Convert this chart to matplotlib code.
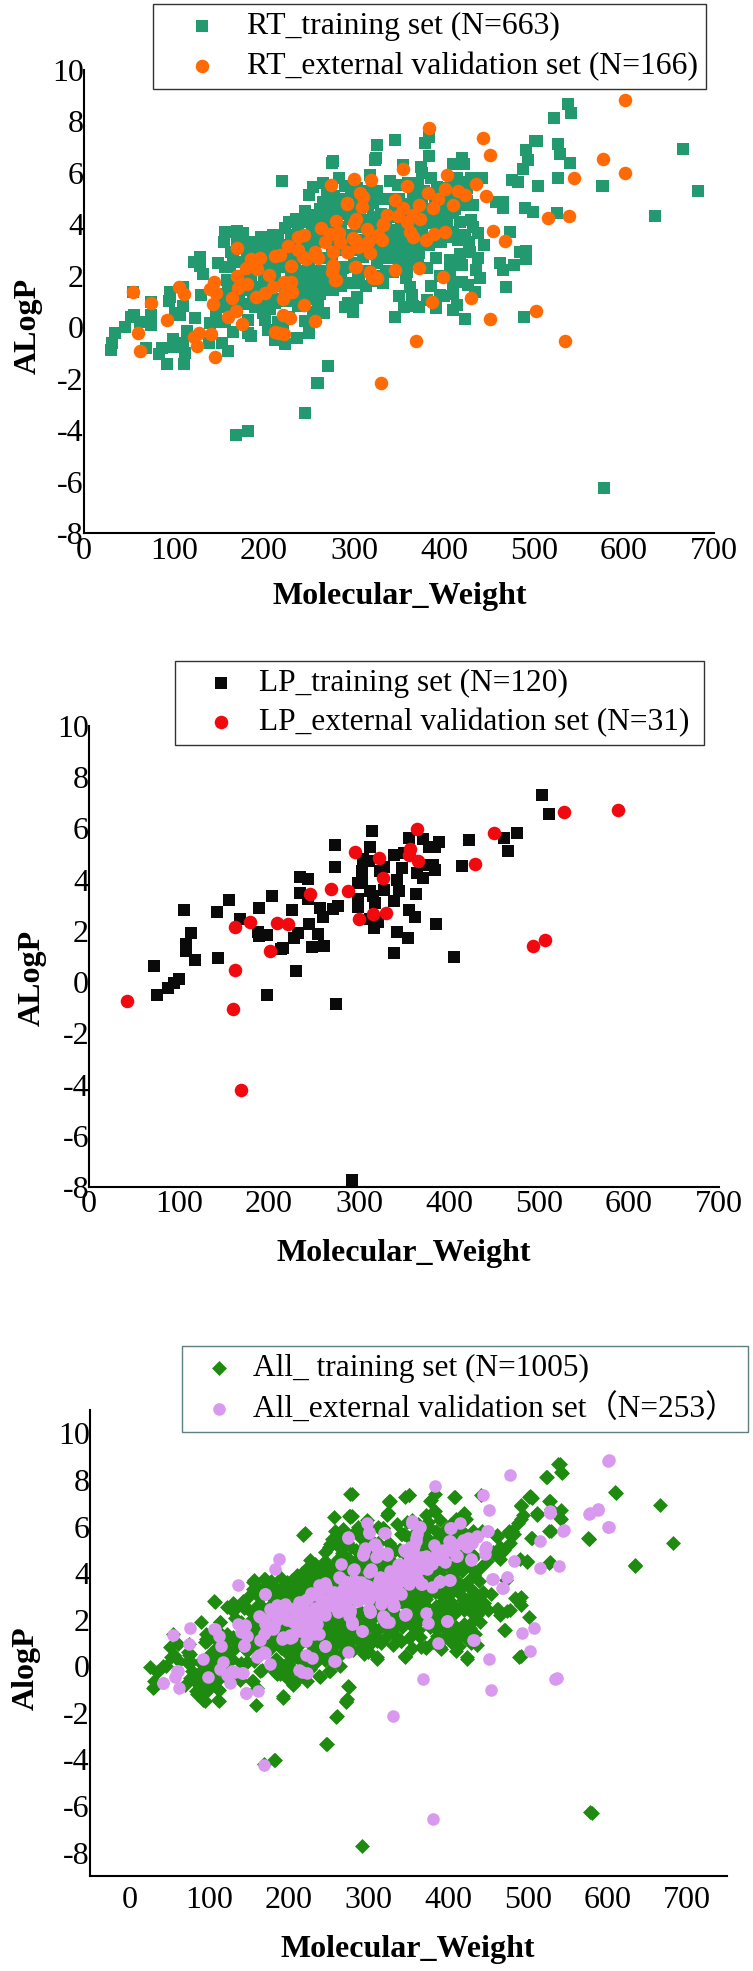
import matplotlib
matplotlib.use('Agg')
import matplotlib.pyplot as plt

plt.rcParams['font.family'] = ['Liberation Serif', 'Noto Sans CJK SC']

# values, (Molecular_Weight, ALogP)
rt_train = [
    (30,-0.9),(31,-0.63),(34,-0.24),(46,0),(56,0.47),(52,0.41),(62,0.21),(74,0.47),(74,0.28),(74,0.08),
    (69,-0.82),(54,1.38),(74,0.97),(83,-1.05),(87,-0.82),(92,-1.43),(111,-1.43),(112,-1.02),(110,-0.63),
    (99,-0.47),(99,-0.76),(114,-0.14),(123,0.37),(95.5,1.38),(94.5,1.03),(95.5,1.19),(101,0.54),(106.5,0.47),
    (109.5,0.84),(110,1.55),(130,1.25),(122,2.55),(129,2.72),(129,2.38),(132.5,2.07),(139,-0.6),(153,-0.63),
    (159.5,-0.93),(140,0.15),(147,0.19),(156.5,0.21),(166,-0.17),(147,0.67),(151,0.86),(158.5,0.8),(158.5,1.83),
    (149,2.48),(156.5,2.35),(162,2.35),(163,2.94),(155,3.32),(156.5,3.69),(169.5,3.75),(177,3.65),(169.5,3.39),
    (175,2.55),(182.5,-0.24),(185,-0.34),(182.5,0.28),(190,0.8),(199,0.54),(201,0.28),(192,1.25),(182,1.45),
    (193.5,1.57),(204.5,-0.11),(212,-0.5),(223,-0.65),(221,0),(237,-0.43),(250,-0.21),(245,0.25),(254.5,0.6),
    (266.5,0.56),(238,0.82),(220,5.7),(271,-1.51),(259,-2.16),(276,6.4),(323,6.5),(317.5,5.92),(283.5,5.79),
    (265.7,5.62),(254.5,5.46),(250,5.14),(297,5.2),(266,4.88),(256.5,4.36),(242,4.2),(275,4.62),(223,3.84),
    (197,3.52),(190,3.32),(203,3.32),(216,3.45),(230.5,3.58),(186,3.07),(197,3.07),(208,3.0),(221.5,2.74),
    (219.5,2.35),(208,2.35),(197,2.22),(186,2.03),(212,1.9),(230.5,1.96),(241.6,2.09),(252.7,2.09),(256,1.7),
    (267.5,1.83),(273,1.45),(299,1.7),(291.5,1.7),(304.5,2.03),(303,1.19),(293,0.93),(299,0.6),(245,3.26),
    (253,3.65),(230.5,2.87),(201,1.12),(212,0.93),(234,1.57),(538,8.68),(541.5,8.34),(522.3,8.12),(503.5,7.25),
    (501.6,7.25),(526.7,7.11),(528.6,6.73),(540.4,6.37),(491.6,6.89),(493.5,6.5),(488,6.15),(475,5.72),(482,5.66),
    (526.7,5.81),(504,5.49),(575.6,5.49),(458,4.88),(465.7,4.88),(465,4.62),(489.7,4.62),(499,4.49),(526,4.45),
    (473,3.71),(444,3.2),(430,4.17),(431.7,3.91),(438,3.65),(484,2.91),(491.6,2.97),(491.6,2.64),(477.5,2.42),
    (462,2.48),(465,2.22),(438,2.68),(429,2.93),(418,2.83),(406.5,2.61),(414,2.48),(406.5,2.2),(436,2.22),
    (391,2.7),(381,2.29),(469.4,1.57),(434,1.38),(427,1.64),(419.5,1.77),(410,1.7),(410,1.31),(414,0.86),
    (409.5,0.67),(423,0.32),(488.6,0.41),(346,0.41),(395.4,1.25),(391,0.73),(380.6,1.06),(372.5,0.77),(366,0.82),
    (364,1.25),(362,1.57),(357.6,1.9),(359,2.16),(360,2.61),(371,2.61),(295.5,0.93),(303,1.12),(290,0.8),
    (299,0.67),(277,1.44),(293.6,1.7),(288,2.29),(332.5,1.7),(343.6,2.16),(326,7.08),(346,7.28),(383.6,7.38),
    (378.4,7.15),(383.6,6.67),(324,6.59),(277,6.46),(354,6.3),(374,6.21),(376,5.98),(283.7,5.79),(317.7,5.92),
    (419.5,6.56),(410,6.34),(422,6.34),(442.7,5.82),(430.5,5.82),(414,5.79),(421,5.66),(340,5.69),(349,5.53),
    (371,5.59),(366,5.2),(392,5.46),(297,5.27),(432.4,4.75),(421,4.75),(410,4.43),(403,4.17),(417.6,4.1),
    (410,3.71),(397,3.32),(377,3.19),(382.5,4.04),(321,4.81),(332.5,5),(306.6,4.43),(284.4,4.55),(317.7,4.17),
    (347,3.78),(347,3.52),(343.6,3.13),(351,3.26),(328.8,3),(325,2.48),(290,2.35),(277,2.22),(310.3,2.74),
    (373,4.55),(358.4,4.04),(336,4.17),(321.4,4.3),(340,3.65),(354.7,3),(362,2.87),(395.4,3.78),
    (246,-3.34),(169,-4.2),(182,-4.03),(260,-2.15),(271.5,-1.52),(578,-6.26),(682.5,5.28),(665.4,6.92),
    (634.4,4.34),(576.7,5.48),
    (262,2.7),(275,2.9),(285,3.2),(295,3.6),(305,3.9),(315,3.5),(325,3.2),(335,3.5),(345,4.4),(355,4.8),
    (365,4.0),(375,3.6),(385,3.3),(240,2.7),(250,2.4),(262,2.2),(275,2.5),(285,2.0),(300,2.5),(312,2.2),
    (320,1.8),(335,2.2),(345,2.7),(225,3.1),(235,3.1),(260,3.8),(270,4.2),(285,3.9),(295,4.2),(305,4.9),
    (315,4.7),(330,4.4),(345,4.8),(360,4.4),(375,5.0),(390,4.9),(400,4.8),(410,5.2),(385,5.8),(360,5.6),
    # the solid middle of the cloud
    (181,2.9),(188,2.6),(194,2.8),(202,2.6),(207,3.2),(213,3.2),(222,3.2),(227,2.7),(234,2.4),(239,2.2),
    (246,2.9),(252,3.1),(257,3.3),(266,3.4),(272,3.7),(278,3.4),(284,3.5),(289,3.0),(296,3.2),(301,3.0),
    (307,3.4),(312,3.0),(319,2.9),(326,2.9),(333,3.0),(339,3.3),(344,3.0),(353,3.6),(358,3.4),(365,3.3),
    (371,3.9),(378,4.3),(384,4.6),(391,4.2),(398,4.4),(404,4.9),(412,4.6),(418,5.1),(425,4.9),(397,5.1),
    (352,4.1),(341,4.3),(330,3.8),(322,3.9),(310,4.1),(300,4.5),(290,4.4),(278,4.3),(268,3.9),(262,4.6),
    (248,4.1),(238,3.9),(284,5.0),(290,5.5),(303,5.4),(312,5.3),(326,5.3),(338,5.0),(350,5.0),(364,4.8),
    (378,5.3),(386,5.2),(400,5.4),(408,5.5),(415,5.4),(425,5.4),(370,3.3),(350,2.4),(337,2.7),(325,2.0),
    (313,1.6),(305,1.7),(285,1.6),(280,1.9),(272,2.1),(264,1.5),(257,2.1),(247,1.7),(241,1.4),(237,2.0),
    (228,1.3),(218,1.6),(206,1.6),(200,1.8),(190,2.4),(180,1.9),(172,2.0),(167,1.7),(160,1.4),(155,1.3),
    (172,1.2),(180,0.9),(207,0.7),(216,0.2),(228,0.4),(232,1.0),(244,1.0),(252,1.1),(260,1.0),(205,2.1),
    (362,3.0),(355,2.7),(348,2.9),(372,2.9),(383,3.2),(392,3.4),(404,3.5),(415,3.4),(423,3.6),(428,3.3),
    (262,1.3),(250,1.3),(245,1.9),(238,1.7),(225,1.0),(215,1.1),(205,1.0),(195,0.9),(188,1.2),(170,0.9),
    (165,2.6),(180,3.2),(192,3.3),(210,3.6),(235,4.2),(228,4.1),(245,4.5),(255,4.1),(270,5.2),(278,5.1),
    (350,1.2),(355,0.8),(385,1.6),(400,1.2),(395,2.0),(420,2.4),(440,1.9),
]
rt_ext = [
    (54,1.35),(74,0.95),(92.5,0.3),(60,-0.21),(62,-0.91),(106,1.58),(111.4,1.28),(128,-0.21),(122.5,-0.37),
    (126,-0.73),(141,-0.28),(145.4,-1.15),(143,0.9),(144.7,1.77),(140,1.47),(147,1.32),(169.5,1.99),(170,3.09),
    (164,1.15),(171,1.51),(181.3,1.68),(168.7,0.63),(160,0.38),(175.7,0.12),(185,2.65),(195,2.68),(180,2.29),
    (191.7,2.25),(205.7,2.03),(212,2.77),(218.3,2.81),(191,1.19),(201,1.34),(210,1.58),(222,1.74),(230.5,1.77),
    (227,1.51),(231,1.38),(223,1.32),(221,1.08),(230,2.39),(227,3.16),(238,3.49),(244.6,3.58),(238,3),
    (243.5,2.74),(247,2.64),(260,2.7),(256.4,2.94),(263,3.84),(267.5,3.32),(273,3.62),(283,3.67),(277,2.94),
    (293.4,2.94),(300.8,3.39),(304.5,3.13),(315.6,3.32),(317.5,2.9),(326.7,3.52),(314,3.82),(280.5,4.14),
    (300,4.04),(302.7,4.19),(332,3.97),(292.7,4.82),(309,4.69),(310,5.07),(306.3,5.2),(274,5.53),(300,5.75),
    (319.3,5.72),(277,2.35),(275,2.16),(278.6,1.83),(301.5,2.33),(317.5,2.09),(325,1.9),(221,0.47),(229.4,0.34),
    (244.6,0.86),(256.4,0.24),(212,-0.17),(216.4,-0.24),(222,-0.28),(600.7,8.83),(383.6,7.73),(443.5,7.37),
    (451,6.69),(576.7,6.54),(600.7,5.98),(544.5,5.82),(354,6.17),(402.8,5.92),(359,5.5),(401,5.38),(436,5.55),
    (382.5,5.2),(447,5.1),(415.8,5.29),(423,5.14),(345.5,4.94),(393.6,4.97),(292.5,4.79),(410,4.75),(387.3,4.62),
    (372.5,4.75),(354.7,4.62),(337,4.36),(349.2,4.32),(365.8,4.36),(358.4,4.1),(373,4.19),(332.5,4),(515.6,4.23),
    (538.6,4.32),(454.6,3.74),(467.5,3.36),(401,3.71),(388.7,3.62),(380,3.39),(362,3.71),(365.8,3.52),(327,3.58),
    (330.7,3.41),(282.6,3.65),(284.4,3.32),(299,3.45),(308.5,3.19),(292,2.93),(302,2.35),(345.5,2.22),(372.5,2.29),
    (398.4,1.94),(317.7,2.16),(321.4,1.92),(279.6,1.83),(277,2.42),(430.5,1.12),(387,0.99),(502.7,0.64),(451.6,0.32),
    (368.8,-0.54),(534.5,-0.54),(330,-2.15),
]
lp_train = [
    (72.7,0.61),(76,-0.49),(87.7,-0.24),(94,-0.05),(99.5,0.14),(118,0.86),(107.5,1.21),(107.5,1.49),(113,1.9),
    (106,2.81),(143,0.93),(142,2.75),(156,3.22),(168,2.46),(189,2.9),(203,3.36),(188,1.95),(189,1.81),(198,1.84),
    (198,-0.49),(216,1.33),(213,1.29),(225,2.81),(228,1.74),(232,1.92),(230.5,0.42),(234,4.11),(243,4.03),
    (234,3.47),(243,3.25),(244,2.26),(248,1.37),(254.5,1.87),(257,2.9),(260,2.54),(261,1.41),(271,2.86),
    (276.5,2.98),(273,4.51),(273,5.35),(274,-0.86),(292,-7.71),(299,2.94),(299,3.25),(299,3.88),(303,4.03),
    (303,4.35),(304,4.82),(312,5.29),(314,5.89),(311,4.74),(312,3.56),(315,3.38),(318,3.09),(318,2.46),
    (316.6,2.12),(321,2.34),(312,2.46),(323,4.35),(328,4.51),(328,3.61),(339,4.98),(339,3.17),(342,3.99),
    (344,3.56),(347.6,4.46),(350,5.05),(342,1.95),(339,1.13),(354,1.74),(355.6,2.81),(362.6,2.54),(363.6,3.44),
    (356,5.64),(364.7,4.27),(371,5.6),(371,4.07),(376.5,4.58),(377.6,5.29),(382,4.58),(384.5,4.38),(384.5,5.29),
    (389,5.48),(386,2.26),(406,0.97),(414,4.54),(422,5.56),(461,5.64),(465,5.13),(476,5.82),(503,7.32),(511,6.58),
]
lp_ext = [
    (41.7,-0.72),(160.4,-1.05),(162,0.47),(162,2.15),(169,-4.22),(178.6,2.34),(201.6,1.22),(209,2.29),(221.4,2.26),
    (246,3.45),(268.4,3.64),(288,3.56),(295,5.09),(300,2.46),(315,2.67),(330,2.7),(322.5,4.85),(326.7,4.07),
    (357,5.18),(356,4.98),(366,4.71),(364,5.98),(429,4.62),(450,5.82),(493,1.41),(507,1.65),(528,6.66),(588,6.73),
]
# points of the third panel not already in the two sets above
all_train_extra = [
    (540,8.7),(543,8.31),(523.4,8.13),(505,7.24),(527.6,7.1),(491,6.93),(542,6.7),(511.6,6.5),(541,6.31),(491.5,6.31),
    (528.4,5.81),(505,5.5),(577,5.46),(635,4.32),(609,7.46),(499,4.5),(527.6,4.46),(480,5.81),(465.6,4.89),(461,5.53),
    (407,7.28),(377.6,7.1),(381.7,6.67),(350,7.34),(327,7.1),(324,6.6),(279,7.4),(279,6.46),(419.5,6.53),(342,5.67),
    (285,5.84),(453,3.1),(488.6,2.82),(501,2.1),(471,1.56),(340,1.1),(346,0.46),(490.7,0.46),(371,0.82),(390,0.82),
    (411,0.82),(423.7,0.39),(302,0.96),(294,0.53),(310.5,0.39),(474,2.39),(461,2.46),(436,2.6),(428,2.53),(402.7,2.82),
    (419.5,1.82),(440,2.39),(411,1.53),(361,2.82),(348,2.53),(377.6,1.67),(402.7,2.1),
    (277,7.38),(326,7.06),(350,7.35),(324,6.56),(274.7,6.45),(256,6.41),(218,5.62),(258,5.81),(251.7,5.24),(285,5.81),
    (344,5.67),(226.5,4.55),(216,4.02),(247.5,4.24),(197,3.6),(168,3.74),(155,3.6),(107,2.78),(130,2.6),(143,2.52),
    (90,1.92),(113.4,1.88),(25,-0.05),(42,0),(29.6,-0.93),(61,0.95),(82,-0.62),(111,-0.97),(155,-0.62),(193,-1.26),
    (274.7,-0.87),(272.6,-1.4),(239,-0.47),(251.7,-0.19),(264,0),(311,0.31),(346,0.45),(340,1.1),(310.3,1.1),(293.6,0.67),
    (302,0.95),(281,1.52),(260,1.38),(247.5,1.95),(199,0.81),(201,0.24),(189,-0.33),(147,0.17),(164,-0.19),(92.5,-0.62),
    (78,-0.19),(84,-1.19),(122,1.38),(96.6,1.1),(75.7,0.52),(50.5,0.81),(356,2.67),(356,1.38),
    (94,-1.47),(112,-1.47),(159,-1.65),(192,-1.35),(248,-3.35),(181,-4.0),(580,-6.3),(610,7.45),(441,7.37),(408,7.28),
    (120,1.0),(130,0.7),(140,1.9),(165,1.3),(175,0.7),(185,1.0),(210,0.4),(228,0.6),(240,1.2),(265,1.2),(280,0.7),
    (320,1.2),(330,0.9),(390,1.8),(400,3.0),(420,3.5),(440,3.0),(450,2.4),(430,1.9),(395,2.4),(380,3.6),(415,3.1),
    # solid green mass
    (88,0.2),(95,-0.4),(100,-0.9),(105,-0.2),(108,0.2),(115,0.6),(118,0.0),(122,-0.5),(88,-0.9),(96,-1.1),
    (128,0.3),(135,1.0),(142,1.2),(150,1.5),(152,2.0),(160,2.6),(168,2.2),(176,1.5),(184,0.3),(192,0.0),
    (198,-0.4),(205,-0.8),(214,-0.2),(226,-0.1),(234,0.2),(240,0.5),(248,0.8),(252,1.6),(258,0.5),(268,0.9),
    (276,1.1),(284,1.2),(292,1.3),(298,2.1),(308,1.3),(316,1.0),(325,1.5),(334,1.3),(342,1.7),(350,1.9),
    (365,2.0),(378,2.0),(385,2.6),(392,3.0),(400,2.5),(408,3.3),(425,2.9),(432,3.2),(445,2.7),(412,1.2),
    (404,1.5),(396,1.6),(386,1.3),(420,1.3),(428,1.0),(436,0.9),(430,2.3),(405,3.9),(420,4.3),(430,4.6),
    (440,4.2),(448,4.5),(456,4.9),(470,5.0),(478,5.3),(370,5.2),(385,5.4),(395,5.8),(403,6.1),(390,6.3),
    (372,6.5),(362,6.1),(348,6.2),(336,6.1),(312,6.0),(298,6.3),(286,6.0),(268,5.9),(260,5.2),(245,4.9),
    (232,4.4),(222,4.2),(210,3.9),(204,3.7),(190,3.8),(180,3.5),(175,3.1),(162,3.3),(150,3.0),(142,2.8),
]
all_ext_extra = [
    (187,4.59),(182,4.17),(135.6,3.48),(170,3.1),(75.7,1.64),(59.8,-0.19),(57,-0.48),(98.7,-0.48),(107,1.6),(114.7,0.85),
    (117.6,0.17),(113.4,-0.12),(132,-0.26),(142,-0.29),(146,-1.15),(136.4,1.81),(145,1.74),(143.6,0.88),(163.7,2.1),
    (168,1.38),(188.8,2.52),(176,2.45),(170,0.55),(193,1.24),(203.5,1.24),(214,1.52),(237,1.38),(218,1.95),(226.5,2.24),
    (212,2.67),(226.5,3.02),(243.3,3.38),(245.4,2.67),(260,3.02),(272.6,3.38),(264,3.81),(265.5,4.38),(282,4.17),
    (293.6,3.24),(310,3.1),(303,4.12),(314.5,3.67),(329,3.52),(340,3.1),(348,3.67),(331,2.6),(320.8,1.95),(302,2.38),
    (279,1.88),(291.5,1.52),(261,2.31),(274,0.62),(245.4,0.88),(258,0.24),(346,2.24),(298,6.17),(300.7,5.74),(274,5.52),
    (320,5.74),(294.4,4.95),(308,5.24),(310,4.74),(323,4.78),(354,6.17),(360.6,5.67),(346,4.95),(356.4,4.67),(337.6,4.38),
    (602,8.84),(477,8.2),(527.6,6.6),(588,6.7),(578,6.56),(602,5.99),(545,5.84),(515,5.36),(482,4.5),(415,6.17),(402.7,5.93),
    (449,5.79),(402.7,5.39),(421.6,5.17),(411,4.74),(446.7,5.03),(446.7,4.81),(428.7,4.57),(396.4,4.46),(386,4.89),(371,4.67),
    (363,5.96),(354.5,6.24),(359.5,5.39),(350,4.81),(361,4.46),(340,4.31),(373,4.24),(456,3.74),(474,3.82),(468.5,3.36),
    (402.7,3.72),(390,3.67),(367,3.53),(351,3.53),(329,3.96),(312.6,3.67),(339,3.13),(314.7,2.96),(331.5,2.6),(319,2.1),
    (347,2.24),(374,1.86),(398.5,1.93),(291.7,1.53),(432,1.13),(453,-1.03),(381,-6.55),(536,-0.5),(42,-0.72),
    # thick pink ridge
    (205,1.9),(212,2.0),(220,2.4),(228,1.9),(235,1.8),(232,2.5),(240,2.9),(250,2.9),(256,3.2),(265,3.1),
    (270,3.0),(278,3.1),(285,3.2),(290,3.6),(296,3.5),(300,3.3),(306,3.3),(312,3.3),(318,3.2),(322,3.4),
    (328,3.1),(334,3.2),(338,3.6),(345,3.9),(352,4.0),(358,4.4),(364,4.6),(368,4.2),(376,4.6),(380,4.4),
    (390,4.6),(395,4.9),(402,5.0),(410,5.2),(418,5.4),(425,5.5),(430,5.3),(436,5.6),(350,4.5),(356,4.1),
    (360,3.9),(352,5.1),(344,5.0),(335,4.1),(325,3.7),(300,2.9),(286,2.8),(270,2.6),(255,2.6),(245,2.2),
    (238,2.3),(222,2.9),(215,2.4),(198,2.0),(185,2.0),(200,2.5),(180,1.6),(170,1.8),
]
all_train = rt_train + lp_train + all_train_extra
all_ext = rt_ext + lp_ext + all_ext_extra

x_ticks_top = [0, 100, 200, 300, 400, 500, 600, 700]
y_ticks = [10, 8, 6, 4, 2, 0, -2, -4, -6, -8]
y_tick_labels = ['10', '8', '6', '4', '2', '0', '-2', '-4', '-6', '-8']

W, H = 753, 1971
fig = plt.figure(figsize=(W / 100, H / 100), dpi=100)


def panel(left, right, top, bottom, xlim, ylim, pad):
    ax = fig.add_axes([left / W, 1 - bottom / H, (right - left) / W, (bottom - top) / H])
    ax.set_xlim(xlim)
    ax.set_ylim(ylim)
    for side in ['top', 'right']:
        ax.spines[side].set_visible(False)
    for side in ['left', 'bottom']:
        ax.spines[side].set_linewidth(1.5)
    ax.set_xticks(x_ticks_top)
    ax.set_yticks(y_ticks)
    ax.set_yticklabels(y_tick_labels)
    ax.tick_params(axis='both', length=0, labelsize=23)
    ax.tick_params(axis='x', pad=pad)
    ax.tick_params(axis='y', pad=0)
    return ax


def scatter(ax, pts, **kw):
    ax.scatter([p[0] for p in pts], [p[1] for p in pts], linewidths=0, clip_on=False, **kw)


def add_legend(ax, box, edge, size, hlen, hpad):
    x0, y0, x1, y1 = box
    leg = ax.legend(loc='upper left', bbox_to_anchor=(x0 / W, 1 - y1 / H, (x1 - x0) / W, (y1 - y0) / H),
                    bbox_transform=fig.transFigure, mode='expand', borderaxespad=0, fontsize=size,
                    fancybox=False, framealpha=1, edgecolor=edge, borderpad=0.25, labelspacing=0.33,
                    handlelength=hlen, handletextpad=hpad, scatterpoints=1)
    leg.get_frame().set_linewidth(1.0)


def labels(xlabel, xc, yc, ylabel, lx, ly):
    fig.text(xc / W, 1 - yc / H, xlabel, ha='center', va='center', fontsize=23, fontweight='bold')
    fig.text(lx / W, 1 - ly / H, ylabel, ha='center', va='center', rotation=90, fontsize=23, fontweight='bold')


# RT
ax1 = panel(84, 714, 70, 533, (0, 700), (-8, 10), 3)
scatter(ax1, rt_train, marker='s', s=72, color='#23996F', label='RT_training set (N=663)')
scatter(ax1, rt_ext, marker='o', s=95, color='#FF6A05', label='RT_external validation set (N=166)')
add_legend(ax1, (153, 4, 706, 83), '#333333', 22.8, 2.62, 0.09)
labels('Molecular_Weight', 400, 597, 'ALogP', 28, 326)

# LP
ax2 = panel(89, 719, 726, 1187, (0, 700), (-8, 10), 2)
scatter(ax2, lp_train, marker='s', s=84, color='#0A0A0A', label='LP_training set (N=120)')
scatter(ax2, lp_ext, marker='o', s=95, color='#F00A0F', label='LP_external validation set (N=31)')
add_legend(ax2, (175, 661, 704, 738), '#333333', 22.6, 2.43, 0.0)
labels('Molecular_Weight', 404, 1253, 'ALogP', 32, 978)

# All
ax3 = panel(90, 727, 1410, 1876, (-50, 750), (-9, 11), 7)
scatter(ax3, all_train, marker='D', s=58, color='#1F8A10', label='All_ training set (N=1005)')
scatter(ax3, all_ext, marker='o', s=82, color='#D899EE', label='All_external validation set（N=253）')
add_legend(ax3, (182, 1346, 748, 1425), '#5F7F7F', 22.6, 1.86, 0.15)
labels('Molecular_Weight', 408, 1949, 'AlogP', 26, 1668)

fig.savefig('out.png', dpi=100)
